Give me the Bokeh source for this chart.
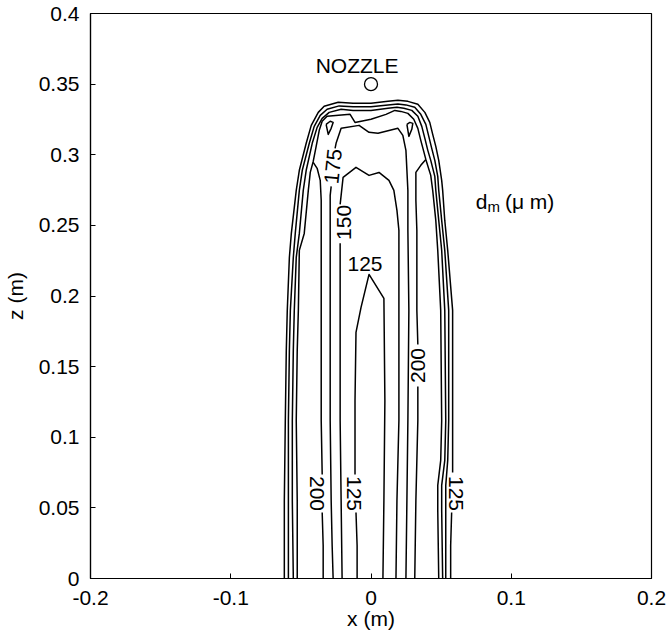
import numpy as np
from bokeh.plotting import figure
from bokeh.models import Range1d, FixedTicker, ColumnDataSource
from bokeh.core.properties import value
from bokeh.embed import file_html
from bokeh.resources import INLINE

nan = float("nan")
FONT = "Liberation Sans"

# ---------------- data (metres) ----------------
x_ticks = [-0.2, -0.1, 0.0, 0.1, 0.2]
x_tick_labels = ["-0.2", "-0.1", "0", "0.1", "0.2"]
z_ticks = [0.0, 0.05, 0.1, 0.15, 0.2, 0.25, 0.3, 0.35, 0.4]
z_tick_labels = ["0", "0.05", "0.1", "0.15", "0.2", "0.25", "0.3", "0.35", "0.4"]

levels = [125, 150, 175, 200]

# outer spray boundary contours (125 outermost ... 200 innermost)
c125_outer_x = [-0.0618, -0.0618, -0.0611, -0.0604, -0.0597, -0.0582, -0.0568, -0.0533, -0.0511, -0.0462,
                -0.0426, -0.0376, -0.0334, -0.0234, -0.0128, 0.0, 0.0121, 0.0192, 0.0263, 0.0334,
                0.0384, 0.0419, 0.0440, 0.0462, 0.0483, 0.0504, 0.0511, 0.0526, 0.0547, 0.0582,
                0.0582, 0.0582, nan, 0.0575, 0.0568, 0.0568]
c125_outer_z = [0.0, 0.0552, 0.1119, 0.1615, 0.1898, 0.2273, 0.2443, 0.2748, 0.2890, 0.3081,
                0.3208, 0.3300, 0.3343, 0.3371, 0.3364, 0.3364, 0.3378, 0.3385, 0.3378, 0.3357,
                0.3300, 0.3229, 0.3144, 0.3059, 0.2960, 0.2819, 0.2748, 0.2535, 0.2323, 0.1898,
                0.1119, 0.0751, nan, 0.0467, 0.0234, 0.0]

c150_outer_x = [-0.0589, -0.0589, -0.0589, -0.0582, -0.0575, -0.0554, -0.0540, -0.0511, -0.0490, -0.0440,
                -0.0405, -0.0362, -0.0313, -0.0227, -0.0128, 0.0, 0.0121, 0.0192, 0.0249, 0.0312,
                0.0355, 0.0391, 0.0412, 0.0433, 0.0455, 0.0476, 0.0483, 0.0504, 0.0526, 0.0554,
                0.0554, 0.0547, 0.0533, 0.0533, 0.0533]
c150_outer_z = [0.0, 0.0552, 0.1119, 0.1615, 0.1898, 0.2273, 0.2443, 0.2748, 0.2890, 0.3081,
                0.3201, 0.3279, 0.3322, 0.3346, 0.3339, 0.3339, 0.3353, 0.3360, 0.3353, 0.3336,
                0.3286, 0.3215, 0.3130, 0.3045, 0.2960, 0.2847, 0.2748, 0.2535, 0.2323, 0.1898,
                0.1119, 0.0836, 0.0659, 0.0482, 0.0]

c175_outer_x = [-0.0554, -0.0561, -0.0561, -0.0554, -0.0547, -0.0533, -0.0511, -0.0483, -0.0462, -0.0419,
                -0.0384, -0.0348, -0.0298, -0.0213, -0.0128, 0.0, 0.0121, 0.0185, 0.0234, 0.0291,
                0.0334, 0.0362, 0.0384, 0.0405, 0.0426, 0.0455, 0.0462, 0.0483, 0.0504, 0.0526,
                0.0533, 0.0526, 0.0504, 0.0504, 0.0511]
c175_outer_z = [0.0, 0.0552, 0.1119, 0.1615, 0.1898, 0.2273, 0.2443, 0.2748, 0.2890, 0.3081,
                0.3194, 0.3258, 0.3300, 0.3322, 0.3314, 0.3314, 0.3329, 0.3336, 0.3329, 0.3314,
                0.3272, 0.3201, 0.3116, 0.3031, 0.2960, 0.2847, 0.2748, 0.2535, 0.2323, 0.1898,
                0.1119, 0.0836, 0.0659, 0.0482, 0.0]

c200_outer_x = [-0.0526, -0.0526, -0.0533, -0.0526, -0.0518, -0.0511, -0.0476, -0.0447, -0.0433, -0.0412,
                -0.0391, -0.0369, -0.0348, -0.0313, -0.0149, -0.0114, 0.0, 0.0107,
                0.0170, 0.0213, 0.0263, 0.0305, 0.0334, 0.0355, 0.0376, 0.0391, 0.0426, 0.0440,
                0.0462, 0.0476, 0.0497, 0.0504, 0.0497, 0.0476, 0.0476, 0.0483]
c200_outer_z = [0.0, 0.0552, 0.1119, 0.1615, 0.1898, 0.2323, 0.2443, 0.2748, 0.2875, 0.2953,
                0.3059, 0.3173, 0.3237, 0.3272, 0.3286, 0.3229, 0.3251, 0.3286,
                0.3314, 0.3307, 0.3293, 0.3251, 0.3187, 0.3102, 0.3024, 0.2967, 0.2854, 0.2748,
                0.2535, 0.2323, 0.1898, 0.1119, 0.0836, 0.0659, 0.0482, 0.0]

# inner contours
c200_inner_left_x = [-0.0341, -0.0341, -0.0348, nan, -0.0348, -0.0355, -0.0355, -0.0355, -0.0362, -0.0384, -0.0412]
c200_inner_left_z = [0.0, 0.0234, 0.0467, nan, 0.0737, 0.1119, 0.1898, 0.2677, 0.2819, 0.2904, 0.2946]

c200_inner_right_x = [0.0312, 0.0320, 0.0334, 0.0334, nan, 0.0334, 0.0327, 0.0327, 0.0320, 0.0320, 0.0355, 0.0391]
c200_inner_right_z = [0.0, 0.0552, 0.1119, 0.1360, nan, 0.1657, 0.1898, 0.2465, 0.2677, 0.2875, 0.2925, 0.2967]

c200_island_left_x = [-0.0320, -0.0291, -0.0270, -0.0284, -0.0305, -0.0320]
c200_island_left_z = [0.3215, 0.3237, 0.3229, 0.3187, 0.3144, 0.3215]
c200_island_right_x = [0.0256, 0.0277, 0.0298, 0.0291, 0.0270, 0.0256]
c200_island_right_z = [0.3215, 0.3229, 0.3222, 0.3180, 0.3130, 0.3215]

c175_inner_x = [-0.0270, -0.0277, -0.0284, -0.0291, -0.0291, -0.0291, -0.0284, nan, -0.0256, -0.0249,
                -0.0213, -0.0085, -0.0014, 0.0050, 0.0192, 0.0227, 0.0249, 0.0256, 0.0263, 0.0263,
                0.0270, 0.0263, 0.0256, 0.0249]
c175_inner_z = [0.0, 0.0234, 0.0552, 0.1119, 0.1898, 0.2712, 0.2776, nan, 0.3045, 0.3081,
                0.3187, 0.3208, 0.3159, 0.3152, 0.3187, 0.3137, 0.3031, 0.2890, 0.2748, 0.2465,
                0.1898, 0.1119, 0.0552, 0.0]

c150_inner_x = [-0.0206, -0.0213, -0.0220, -0.0220, -0.0220, nan, -0.0220, -0.0213, -0.0199, -0.0107,
                -0.0014, 0.0057, 0.0128, 0.0163, 0.0185, 0.0199, 0.0199, 0.0199, 0.0185, 0.0178]
c150_inner_z = [0.0, 0.0552, 0.1119, 0.1898, 0.2373, nan, 0.2649, 0.2712, 0.2840, 0.2911,
                0.2854, 0.2875, 0.2819, 0.2748, 0.2606, 0.2465, 0.1898, 0.1119, 0.0552, 0.0]

c125_inner_x = [-0.0099, -0.0099, -0.0107, nan, -0.0114, -0.0114, -0.0107, -0.0071, -0.0014, 0.0092, 0.0099, 0.0092, 0.0085]
c125_inner_z = [0.0, 0.0234, 0.0467, nan, 0.0737, 0.1261, 0.1742, 0.1919, 0.2153, 0.1983, 0.1261, 0.0552, 0.0]

# contour labels
label_text = ["175", "150", "125", "200", "200", "125", "125"]
label_x = [-0.0270, -0.0192, -0.0043, 0.0334, -0.0384, -0.0121, 0.0608]
label_z = [0.2918, 0.2521, 0.2224, 0.1508, 0.0602, 0.0602, 0.0602]
label_angle_deg = [84, 90, 0, 90, -90, -90, -90]

nozzle_x = [0.0]
nozzle_z = [0.35]

# ---------------- figure ----------------
p = figure(width=667, height=636, x_range=Range1d(-0.2, 0.2), y_range=Range1d(0.0, 0.4),
           output_backend="svg", toolbar_location=None,
           min_border_left=88, min_border_right=16, min_border_top=13, min_border_bottom=58)
p.grid.visible = False
p.outline_line_color = "black"
p.outline_line_width = 1.2
p.background_fill_color = "white"
p.border_fill_color = "white"

for ax in (p.xaxis[0], p.yaxis[0]):
    ax.axis_line_color = "black"
    ax.axis_line_width = 1.2
    ax.major_tick_in = 5
    ax.major_tick_out = 0
    ax.major_tick_line_color = "black"
    ax.minor_tick_line_color = None
    ax.major_label_text_font = FONT
    ax.major_label_text_font_size = "21px"
    ax.major_label_text_color = "black"
    ax.axis_label_text_font = FONT
    ax.axis_label_text_font_size = "21px"
    ax.axis_label_text_font_style = "normal"
    ax.axis_label_text_color = "black"

p.xaxis.ticker = FixedTicker(ticks=x_ticks)
p.xaxis.major_label_overrides = dict(zip(x_ticks, x_tick_labels))
p.yaxis.ticker = FixedTicker(ticks=z_ticks)
p.yaxis.major_label_overrides = dict(zip(z_ticks, z_tick_labels))
p.xaxis.axis_label = "x (m)"
p.yaxis.axis_label = "z (m)"
p.xaxis.major_label_standoff = 12
p.xaxis.axis_label_standoff = -1
p.yaxis.major_label_standoff = 11
p.yaxis.axis_label_standoff = 9

contours = [
    (c125_outer_x, c125_outer_z), (c150_outer_x, c150_outer_z),
    (c175_outer_x, c175_outer_z), (c200_outer_x, c200_outer_z),
    (c200_inner_left_x, c200_inner_left_z), (c200_inner_right_x, c200_inner_right_z),
    (c200_island_left_x, c200_island_left_z), (c200_island_right_x, c200_island_right_z),
    (c175_inner_x, c175_inner_z), (c150_inner_x, c150_inner_z), (c125_inner_x, c125_inner_z),
]
for cx, cz in contours:
    p.line(x=cx, y=cz, line_color="black", line_width=1.5, line_join="round")

lab_src = ColumnDataSource(dict(x=label_x, z=label_z, text=label_text,
                                angle=[np.radians(a) for a in label_angle_deg]))
p.text(x="x", y="z", text="text", angle="angle", source=lab_src,
       text_font=value(FONT), text_font_size="21px", text_align="center",
       text_baseline="middle", text_color="black")

p.scatter(x=nozzle_x, y=nozzle_z, marker="circle", size=13, fill_color=None,
          line_color="black", line_width=1.3)
p.text(x=[-0.0099], y=[0.3633], text=["NOZZLE"], text_font=value(FONT), text_font_size="21px",
       text_align="center", text_baseline="alphabetic", text_color="black")

# d_m (μ m) legend text
p.text(x=[0.0746], y=[0.2670], text=["d"], text_font=value(FONT), text_font_size="21px",
       text_align="left", text_baseline="alphabetic", text_color="black")
p.text(x=[0.0831], y=[0.2635], text=["m"], text_font=value(FONT), text_font_size="15px",
       text_align="left", text_baseline="alphabetic", text_color="black")
p.text(x=[0.0955], y=[0.2670], text=["(\u03bc m)"], text_font=value(FONT), text_font_size="21px",
       text_align="left", text_baseline="alphabetic", text_color="black")

open("out.html", "w").write(file_html(p, INLINE))
